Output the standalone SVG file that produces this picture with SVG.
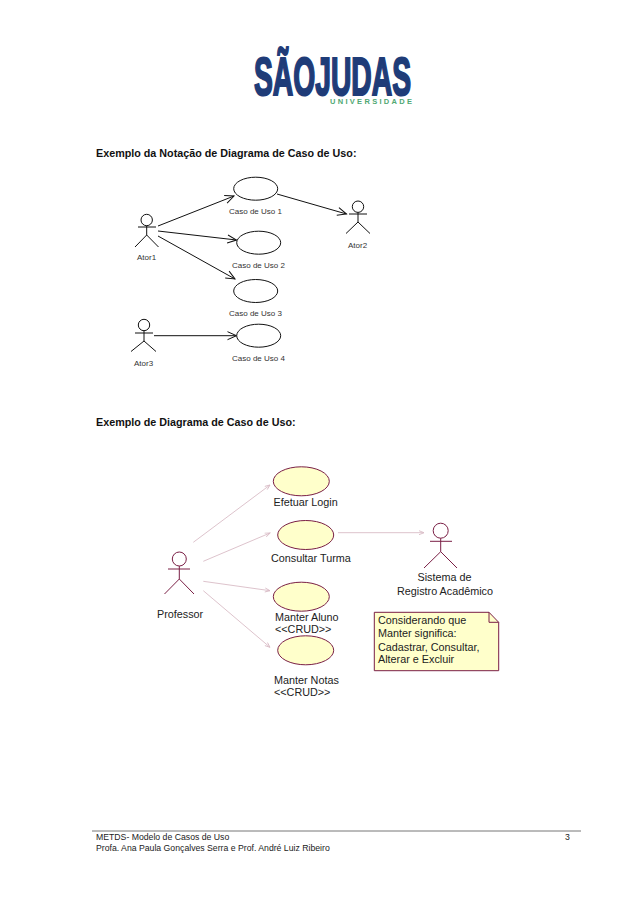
<svg xmlns="http://www.w3.org/2000/svg" width="638" height="903" viewBox="0 0 638 903">
<style>
text{font-family:"Liberation Sans",Arial,sans-serif;fill:#111}
.h{font-weight:bold;font-size:10.75px}
.s{font-size:8px;fill:#333}
.m{font-size:10.8px;fill:#222}
.f{font-size:8.7px;fill:#222}
.a1{fill:none;stroke:#111;stroke-width:1}
.u1{fill:#fff;stroke:#111;stroke-width:1}
.c1{fill:none;stroke:#111;stroke-width:1;marker-end:url(#open1)}
.a2{fill:none;stroke:#7a1f45;stroke-width:1}
.u2{fill:#ffffcb;stroke:#7a1f45;stroke-width:1}
.c2{fill:none;stroke:#d9bcc6;stroke-width:.9;marker-end:url(#open2)}
</style>
<defs>
<marker id="open1" markerUnits="userSpaceOnUse" markerWidth="12" markerHeight="12" refX="10" refY="6" orient="auto"><path d="M1 2L10 6L1 10" fill="none" stroke="#111" stroke-width="1"/></marker>
<marker id="open2" markerUnits="userSpaceOnUse" markerWidth="8" markerHeight="8" refX="6" refY="4" orient="auto"><path d="M1 2L6 4L1 6" fill="none" stroke="#d9bcc6" stroke-width=".9"/></marker>
</defs>
<rect width="638" height="903" fill="#fff"/>
<g id="logo">
<text x="254" y="95" font-size="54" font-weight="bold" textLength="157" lengthAdjust="spacingAndGlyphs" style="font-family:'Liberation Sans Narrow','Liberation Sans',sans-serif;fill:#1f3c78;stroke:#1f3c78;stroke-width:2.2">SÃOJUDAS</text>
<text x="330" y="103.500" font-size="7.500" font-weight="bold" textLength="82" style="fill:#4fa873">UNIVERSIDADE</text>
</g>
<text class="h" x="96" y="157">Exemplo da Notação de Diagrama de Caso de Uso:</text>
<text class="h" x="96" y="426">Exemplo de Diagrama de Caso de Uso:</text>
<g id="connectors">
<path class="c1" d="M158 226L234 196"/>
<path class="c1" d="M158 231L236.500 240"/>
<path class="c1" d="M158 236L235 279"/>
<path class="c1" d="M277 194L346.500 214"/>
<path class="c1" d="M154 335.700L236.500 335.700"/>
<path class="c2" d="M193.300 542.300L270 485"/>
<path class="c2" d="M203.300 561.300L270 533"/>
<path class="c2" d="M203.300 581.300L270 590.700"/>
<path class="c2" d="M203.300 590.700L270 647.300"/>
<path class="c2" d="M338 532.700L424 532.700"/>
</g>
<g id="ator1"><circle class="a1" cx="146.700" cy="220" r="5.700"/><path class="a1" d="M138 227H156M146.700 225.700V235L135 247M146.700 235L158.500 247"/><text class="s" x="137" y="260">Ator1</text></g>
<g id="ator2"><circle class="a1" cx="358" cy="206.700" r="5.700"/><path class="a1" d="M349 214H367M358 212.400V222L346 233.500M358 222L370 233.500"/><text class="s" x="348" y="248">Ator2</text></g>
<g id="ator3"><circle class="a1" cx="144" cy="325" r="5.700"/><path class="a1" d="M135 333H153M144 330.700V341L131 351.500M144 341L156 351.500"/><text class="s" x="134" y="366">Ator3</text></g>
<g id="caso1"><ellipse class="u1" cx="255.700" cy="188.700" rx="22" ry="11.500"/><text class="s" x="229" y="214">Caso de Uso 1</text></g>
<g id="caso2"><ellipse class="u1" cx="258.700" cy="242.700" rx="22" ry="11.500"/><text class="s" x="232" y="268">Caso de Uso 2</text></g>
<g id="caso3"><ellipse class="u1" cx="255.700" cy="291" rx="22" ry="11.500"/><text class="s" x="229" y="316">Caso de Uso 3</text></g>
<g id="caso4"><ellipse class="u1" cx="258.700" cy="335.700" rx="22" ry="11.500"/><text class="s" x="232" y="361">Caso de Uso 4</text></g>
<g id="professor"><circle class="a2" cx="179.300" cy="559" r="7"/><path class="a2" d="M168 569H190M179.300 566V579L164.500 594M179.300 579L194 594"/><text class="m" x="157" y="618">Professor</text></g>
<g id="sistema"><circle class="a2" cx="440.700" cy="530.700" r="7.500"/><path class="a2" d="M430 541.300H452M440.700 538.200V551.700L424 568M440.700 551.700L457 568"/><text class="m" x="444.500" y="581" text-anchor="middle">Sistema de</text><text class="m" x="445" y="595" text-anchor="middle">Registro Acadêmico</text></g>
<g id="efetuar"><ellipse class="u2" cx="301.300" cy="481.300" rx="28" ry="14.500"/><text class="m" x="273.500" y="506">Efetuar Login</text></g>
<g id="consultar"><ellipse class="u2" cx="305.700" cy="535" rx="28" ry="14.500"/><text class="m" x="271" y="562">Consultar Turma</text></g>
<g id="aluno"><ellipse class="u2" cx="301.300" cy="596.700" rx="28" ry="14.500"/><text class="m" x="275" y="621">Manter Aluno</text><text class="m" x="275" y="633">&lt;&lt;CRUD&gt;&gt;</text></g>
<g id="notas"><ellipse class="u2" cx="305.700" cy="650.300" rx="28" ry="14.500"/><text class="m" x="274" y="684">Manter Notas</text><text class="m" x="274" y="696">&lt;&lt;CRUD&gt;&gt;</text></g>
<g id="nota"><path class="u2" d="M374.300 612.300H489L498.700 622.300V670.700H374.300Z"/><path class="a2" d="M489 612.300V622.300H498.700"/>
<text class="m" x="378" y="624">Considerando que</text><text class="m" x="378" y="637">Manter significa:</text><text class="m" x="378" y="650.500">Cadastrar, Consultar,</text><text class="m" x="378" y="663">Alterar e Excluir</text></g>
<g id="rodape"><path d="M92 831H581" stroke="#777" stroke-width="1" fill="none"/>
<text class="f" x="96" y="840">METDS- Modelo de Casos de Uso</text>
<text class="f" x="96" y="851">Profa. Ana Paula Gonçalves Serra e Prof. André Luiz Ribeiro</text>
<text class="f" x="565" y="840">3</text></g>
</svg>
